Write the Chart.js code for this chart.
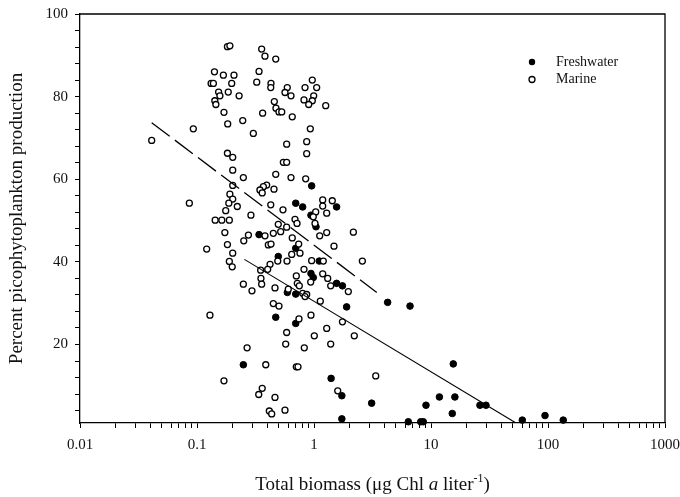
<!DOCTYPE html>
<html><head><meta charset="utf-8">
<script src="https://cdn.jsdelivr.net/npm/chart.js@4.4.0/dist/chart.umd.min.js"></script>
<style>html,body{margin:0;padding:0;background:#fff}</style>
</head><body>
<canvas id="c" width="680" height="497"></canvas>
<script>
// ---- Data ----
const freshwaterX = [0.955,0.698,0.800,1.56,0.942,1.04,0.339,0.698,0.495,1.11,
  0.942,0.986,1.56,1.75,0.592,0.698,1.90,0.471,0.698,0.249,
  1.40,1.73,3.11,1.73,4.26,6.62,15.5,11.8,16.0,9.06,
  15.2,26.2,29.5,6.40,8.17,8.59,60.3,94.3,135];
const freshwaterY = [58.4,54.2,53.3,53.3,51.3,48.5,46.6,43.3,41.3,40.2,
  37.2,36.2,34.8,34.2,32.6,32.2,29.1,26.6,25.1,15.1,
  11.8,7.6,5.8,2.0,30.2,29.3,15.3,7.3,7.3,5.3,
  3.3,5.3,5.3,1.3,1.3,1.3,1.7,2.8,1.7];

const marineX = [
  0.182,0.191,0.141,0.168,0.207,0.132,0.138,0.198,0.324,0.153,
  0.185,0.157,0.229,0.142,0.145,0.170,0.183,0.246,0.093,0.041,
  0.303,0.182,0.202,0.202,0.249,0.202,0.191,0.202,0.187,0.221,
  0.086,0.176,0.289,0.143,0.163,0.189,0.357,0.381,0.471,0.339,
  0.429,0.427,0.591,0.565,0.636,0.967,0.838,1.054,0.994,0.821,
  0.967,0.901,1.259,0.458,0.473,0.502,0.530,0.364,0.652,0.930,
  0.584,0.866,0.866,0.547,0.584,0.471,0.636,0.849,0.394,0.369,
  0.345,0.361,0.455,1.187,1.433,1.187,0.427,0.543,1.034,0.986,
  1.284,0.688,0.716,0.495,0.584,1.02,0.173,0.275,0.251,0.121,
  0.182,0.202,0.189,0.200,0.249,0.295,0.129,0.268,0.170,0.381,
  0.449,0.519,0.652,1.119,1.284,2.17,0.407,0.429,0.740,0.645,
  0.759,1.482,0.490,0.588,0.421,0.955,1.201,2.59,0.350,0.402,
  0.352,0.357,0.706,0.821,1.187,1.31,0.720,0.749,0.937,1.389,
  1.965,0.464,0.603,0.800,0.866,0.838,1.132,0.449,0.502,0.744,
  0.942,1.75,1.284,0.584,1.006,2.21,0.573,0.826,1.389,0.387,
  0.706,0.730,3.37,1.595,0.361,0.337,0.464,0.415,0.435,0.565];
const marineY = [
  92.1,92.3,86.0,85.2,85.2,83.2,83.2,83.2,83.5,81.1,
  81.1,80.2,80.2,79.0,78.1,76.2,73.4,74.2,72.2,69.4,
  71.1,66.3,65.3,62.2,60.4,58.5,56.4,55.2,54.2,53.4,
  54.2,52.4,51.3,50.1,50.1,50.1,91.5,89.8,89.1,86.1,
  83.2,82.2,82.2,81.0,80.2,84.0,82.2,82.2,80.2,79.2,
  79.0,78.1,77.8,78.8,77.2,76.3,76.3,76.0,75.1,72.2,
  68.5,69.1,66.2,64.1,64.1,61.2,60.4,60.1,58.6,58.2,
  57.4,56.7,57.6,55.0,54.8,53.5,53.8,52.6,52.1,50.9,
  51.8,50.3,49.3,49.1,48.4,49.3,47.1,46.5,45.1,43.1,
  44.2,42.1,40.1,38.8,34.6,33.0,27.1,19.2,11.2,46.3,
  46.9,47.3,45.8,46.3,47.1,47.2,44.1,44.3,44.3,41.8,
  42.1,43.8,40.2,40.2,39.4,40.3,40.2,40.2,38.0,38.2,
  36.0,34.6,36.6,38.2,37.1,36.0,34.8,34.2,35.1,34.2,
  32.8,33.7,33.4,32.4,32.1,31.6,30.5,29.9,29.3,26.2,
  27.1,25.5,23.9,22.9,22.1,22.1,20.1,19.2,20.1,15.1,
  14.6,14.6,12.4,8.8,9.4,7.9,7.2,3.9,3.2,4.1];

// regression lines (end points)
const marineFitX = [0.041, 3.44];
const marineFitY = [73.7, 32.6];
const freshFitX = [0.254, 52];
const freshFitY = [40.6, 1.2];

// ticks
const xMajor = [0.01, 0.1, 1, 10, 100, 1000];
const xTickLabels = ['0.01', '0.1', '1', '10', '100', '1000'];
const xMinorMult = [2, 3, 4, 5, 6, 7, 8, 9];
const yTickLabels = [20, 40, 60, 80, 100];
const yMinorStep = 4;

const categoriesLegend = ['Freshwater', 'Marine'];

// ---- Chart ----
const FONT = "'Liberation Serif','Times New Roman',serif";
const INK = '#111';

const xTickValues = [];
xMajor.forEach((m, i) => {
  xTickValues.push(m);
  if (i < xMajor.length - 1) xMinorMult.forEach(k => xTickValues.push(m * k));
});
const yTickValues = [];
for (let v = yMinorStep; v <= 100; v += yMinorStep) yTickValues.push(v);

const pts = (xs, ys) => xs.map((x, i) => ({x: x, y: ys[i]}));

const framePlugin = {
  id: 'frame',
  afterDraw(chart) {
    const {ctx, chartArea: a} = chart;
    ctx.save();
    ctx.strokeStyle = '#000';
    ctx.lineWidth = 1.3;
    ctx.beginPath();
    ctx.moveTo(a.left, a.top);
    ctx.lineTo(a.right, a.top);
    ctx.lineTo(a.right, a.bottom);
    ctx.stroke();

    // legend
    const lx = a.right - 133, ly = a.top + 48, gap = 17.5;
    ctx.fillStyle = '#000';
    ctx.beginPath(); ctx.arc(lx, ly, 3.2, 0, Math.PI * 2); ctx.fill();
    ctx.fillStyle = '#fff'; ctx.lineWidth = 1.3;
    ctx.beginPath(); ctx.arc(lx, ly + gap, 3, 0, Math.PI * 2); ctx.fill(); ctx.stroke();
    ctx.fillStyle = INK;
    ctx.font = `14px ${FONT}`;
    ctx.textBaseline = 'middle';
    ctx.textAlign = 'left';
    ctx.fillText(categoriesLegend[0], lx + 24, ly);
    ctx.fillText(categoriesLegend[1], lx + 24, ly + gap);

    // x-axis title with italic and superscript
    const segs = [
      {t: 'Total biomass (\u03bcg Chl ', f: `19px ${FONT}`, dy: 0},
      {t: 'a', f: `italic 19px ${FONT}`, dy: 0},
      {t: ' liter', f: `19px ${FONT}`, dy: 0},
      {t: '-1', f: `12px ${FONT}`, dy: -8},
      {t: ')', f: `19px ${FONT}`, dy: 0}
    ];
    let total = 0;
    segs.forEach(s => { ctx.font = s.f; s.w = ctx.measureText(s.t).width; total += s.w; });
    let x = (a.left + a.right) / 2 - total / 2;
    const base = 490;
    ctx.textBaseline = 'alphabetic';
    segs.forEach(s => { ctx.font = s.f; ctx.fillText(s.t, x, base + s.dy); x += s.w; });
    ctx.restore();
  }
};

new Chart(document.getElementById('c'), {
  type: 'scatter',
  data: {
    datasets: [
      {label: 'Marine fit', data: pts(marineFitX, marineFitY), showLine: true,
       borderColor: '#000', borderWidth: 1.3, borderDash: [22.5, 6.5], pointRadius: 0, fill: false, clip: false},
      {label: 'Freshwater fit', data: pts(freshFitX, freshFitY), showLine: true,
       borderColor: '#000', borderWidth: 1.1, pointRadius: 0, fill: false, clip: false},
      {label: 'Marine', data: pts(marineX, marineY), pointRadius: 3,
       pointBackgroundColor: '#fff', pointBorderColor: '#000', pointBorderWidth: 1.3, clip: false},
      {label: 'Freshwater', data: pts(freshwaterX, freshwaterY), pointRadius: 3.3,
       pointBackgroundColor: '#000', pointBorderColor: '#000', pointBorderWidth: 1, clip: false}
    ]
  },
  options: {
    responsive: false,
    animation: false,
    devicePixelRatio: 1,
    layout: {padding: {left: 0, right: 15, top: 14, bottom: 0}},
    plugins: {legend: {display: false}, tooltip: {enabled: false}},
    scales: {
      x: {
        type: 'logarithmic', min: 0.01, max: 1000,
        afterBuildTicks: s => { s.ticks = xTickValues.map(v => ({value: v})); },
        afterFit: s => { s.height = 74; s.paddingLeft = 0; s.paddingRight = 0; },
        ticks: {
          autoSkip: false, maxRotation: 0, minRotation: 0, padding: 8, color: INK,
          font: {family: FONT, size: 15},
          callback: v => { const i = xMajor.indexOf(v); return i >= 0 ? xTickLabels[i] : ''; }
        },
        grid: {drawOnChartArea: false, drawTicks: true, tickLength: 5, color: '#000', lineWidth: 1},
        border: {display: true, color: '#000', width: 1.3}
      },
      y: {
        type: 'linear', min: 1, max: 100,
        afterBuildTicks: s => { s.ticks = yTickValues.map(v => ({value: v})); },
        afterFit: s => { s.width = 80; s.paddingTop = 0; s.paddingBottom = 0; },
        ticks: {
          autoSkip: false, padding: 7, color: INK,
          font: {family: FONT, size: 15},
          callback: v => yTickLabels.includes(v) ? String(v) : ''
        },
        grid: {drawOnChartArea: false, drawTicks: true, tickLength: 5, color: '#000', lineWidth: 1},
        border: {display: true, color: '#000', width: 1.3},
        title: {display: true, text: 'Percent picophytoplankton production', color: INK,
                font: {family: FONT, size: 19}, padding: {top: 6, bottom: 6}}
      }
    }
  },
  plugins: [framePlugin]
});
</script>
</body></html>
